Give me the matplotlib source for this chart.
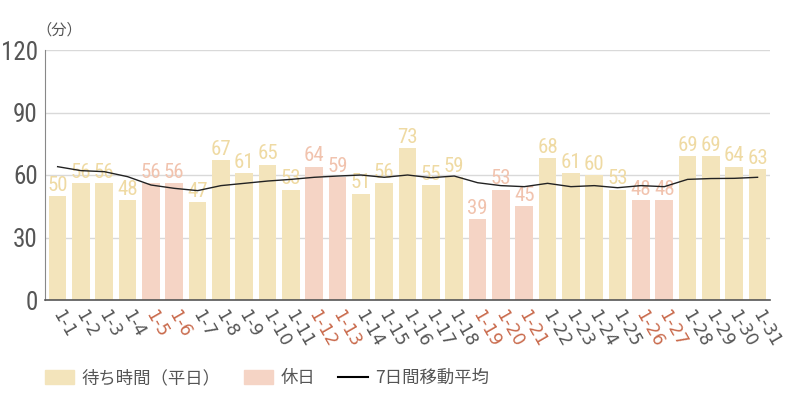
import numpy as np
import matplotlib
matplotlib.use("Agg")
import matplotlib.pyplot as plt
from matplotlib import font_manager
from matplotlib.patches import Patch
from matplotlib.lines import Line2D

# データ（1月の待ち時間）
days = [f"1-{d}" for d in range(1, 32)]
wait = [50, 56, 56, 48, 56, 56, 47, 67, 61, 65, 53, 64, 59, 51, 56, 73,
        55, 59, 39, 53, 45, 68, 61, 60, 53, 48, 48, 69, 69, 64, 63]
holidays = ["1-5", "1-6", "1-12", "1-13", "1-19", "1-20", "1-21", "1-26", "1-27"]
avg7 = [64.0, 62.1, 61.6, 59.2, 55.2, 53.6, 52.5, 54.9, 56.0, 57.1, 57.9,
        58.9, 59.5, 60.0, 58.9, 60.0, 58.7, 59.5, 56.3, 54.9, 54.4, 56.0,
        54.4, 54.9, 53.9, 54.9, 54.4, 57.9, 58.3, 58.4, 58.9]
yticks = [0, 30, 60, 90, 120]

# 細めの数字フォントを探す
names = {f.name for f in font_manager.fontManager.ttflist}
narrow = "DejaVu Sans"
for cand in ["Roboto Condensed", "Barlow Condensed", "Asap Condensed", "Archivo Narrow"]:
    if cand in names:
        narrow = cand
        break
num_family = [narrow, "DejaVu Sans"]
tick_family = ["DejaVu Sans"]
plt.rcParams["font.family"] = ["Noto Sans CJK JP", "DejaVu Sans"]

weekday_col = "#f3e4bb"
holiday_col = "#f5d4c5"
weekday_txt = "#efdaa3"
holiday_txt = "#f1c3ae"
gray = "#555555"
red = "#c96a4c"

fig = plt.figure(figsize=(8, 4), dpi=100)
ax = fig.add_axes([0.056, 0.25, 0.907, 0.625])

x = np.arange(len(days))
is_hol = [d in holidays for d in days]
colors = [holiday_col if h else weekday_col for h in is_hol]
ax.bar(x, wait, width=0.76, color=colors, zorder=2)

for xi, v, h in zip(x, wait, is_hol):
    ax.text(xi, v + 0.6, str(v), ha="center", va="bottom", fontsize=15,
            color=holiday_txt if h else weekday_txt, family=num_family,
            zorder=3)

ax.plot(x, avg7, color="#222222", lw=1.0, zorder=4)

ax.set_xlim(-0.55, len(days) - 0.45)
ax.set_ylim(0, 120)
ax.set_yticks(yticks)
ax.set_yticklabels([str(t) for t in yticks], family=num_family,
                   fontsize=18, color=gray)
ax.grid(axis="y", color="#d9d9d9", lw=1, zorder=0)
ax.tick_params(axis="y", length=0, pad=5)
ax.tick_params(axis="x", length=0)

ax.set_xticks(x)
ax.set_xticklabels([])
for xi, d, h in zip(x, days, is_hol):
    ax.annotate(d, xy=(xi, 0), xycoords=("data", "axes fraction"),
                xytext=(-1, -8), textcoords="offset points",
                rotation=-60, rotation_mode="anchor", ha="left", va="center",
                fontsize=12.5, color=red if h else gray, family=tick_family)

for s in ["top", "right"]:
    ax.spines[s].set_visible(False)
ax.spines["left"].set_color("#888888")
ax.spines["bottom"].set_color("#555555")
ax.spines["bottom"].set_linewidth(1.2)

fig.text(0.046, 0.925, "（分）", fontsize=11, color=gray, ha="left", va="center")

handles = [Patch(color=weekday_col), Patch(color=holiday_col),
           Line2D([0], [0], color="black", lw=1.5)]
labels = ["待ち時間（平日）", "休日", "7日間移動平均"]
fig.legend(handles, labels, loc="center left", bbox_to_anchor=(0.056, 0.055),
           ncol=3, frameon=False, fontsize=12.5, handlelength=1.7,
           handleheight=0.8, handletextpad=0.4, columnspacing=1.35,
           borderpad=0, borderaxespad=0, labelcolor=gray)

fig.savefig("out.png", dpi=100, facecolor="white")
